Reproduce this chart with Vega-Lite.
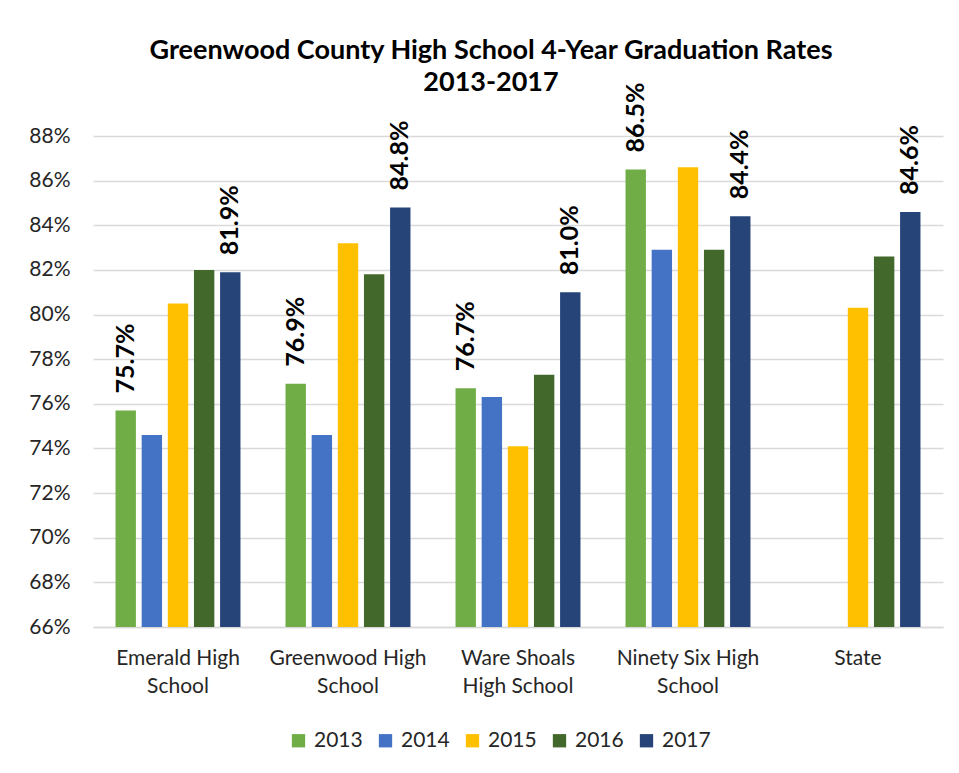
{
  "$schema": "https://vega.github.io/schema/vega-lite/v6.json",
  "width": 850,
  "height": 491,
  "autosize": {"type": "none"},
  "padding": {"left": 93, "top": 136, "right": 16, "bottom": 146},
  "background": "white",
  "title": {
    "text": ["Greenwood County High School 4-Year Graduation Rates", "2013-2017"],
    "font": "Lato",
    "fontSize": 27,
    "fontWeight": "bold",
    "color": "#000000",
    "anchor": "middle",
    "frame": "group",
    "dx": -27,
    "lineHeight": 32,
    "offset": -14
  },
  "data": {
    "values": [
      {"school": "Emerald High School", "year": "2013", "value": 0.757},
      {"school": "Emerald High School", "year": "2014", "value": 0.746},
      {"school": "Emerald High School", "year": "2015", "value": 0.805},
      {"school": "Emerald High School", "year": "2016", "value": 0.820},
      {"school": "Emerald High School", "year": "2017", "value": 0.819},
      {"school": "Greenwood High School", "year": "2013", "value": 0.769},
      {"school": "Greenwood High School", "year": "2014", "value": 0.746},
      {"school": "Greenwood High School", "year": "2015", "value": 0.832},
      {"school": "Greenwood High School", "year": "2016", "value": 0.818},
      {"school": "Greenwood High School", "year": "2017", "value": 0.848},
      {"school": "Ware Shoals High School", "year": "2013", "value": 0.767},
      {"school": "Ware Shoals High School", "year": "2014", "value": 0.763},
      {"school": "Ware Shoals High School", "year": "2015", "value": 0.741},
      {"school": "Ware Shoals High School", "year": "2016", "value": 0.773},
      {"school": "Ware Shoals High School", "year": "2017", "value": 0.810},
      {"school": "Ninety Six High School", "year": "2013", "value": 0.865},
      {"school": "Ninety Six High School", "year": "2014", "value": 0.829},
      {"school": "Ninety Six High School", "year": "2015", "value": 0.866},
      {"school": "Ninety Six High School", "year": "2016", "value": 0.829},
      {"school": "Ninety Six High School", "year": "2017", "value": 0.844},
      {"school": "State", "year": "2015", "value": 0.803},
      {"school": "State", "year": "2016", "value": 0.826},
      {"school": "State", "year": "2017", "value": 0.846}
    ]
  },
  "encoding": {
    "x": {
      "field": "school",
      "type": "nominal",
      "sort": ["Emerald High School", "Greenwood High School", "Ware Shoals High School", "Ninety Six High School", "State"],
      "scale": {"paddingInner": 0.265, "paddingOuter": 0.1325},
      "axis": {
        "title": null,
        "labelAngle": 0,
        "labelFont": "Lato",
        "labelFontSize": 21,
        "labelColor": "#262626",
        "labelPadding": 20,
        "labelLineHeight": 28,
        "labelBaseline": "top",
        "ticks": false,
        "domain": true,
        "domainColor": "#D9D9D9",
        "domainWidth": 1.3,
        "labelExpr": "datum.value == 'Emerald High School' ? ['Emerald High', 'School'] : datum.value == 'Greenwood High School' ? ['Greenwood High', 'School'] : datum.value == 'Ware Shoals High School' ? ['Ware Shoals', 'High School'] : datum.value == 'Ninety Six High School' ? ['Ninety Six High', 'School'] : datum.value"
      }
    },
    "y": {
      "field": "value",
      "type": "quantitative",
      "scale": {"domain": [0.66, 0.88], "zero": false, "nice": false},
      "axis": {
        "title": null,
        "format": ".0%",
        "values": [0.66, 0.68, 0.70, 0.72, 0.74, 0.76, 0.78, 0.80, 0.82, 0.84, 0.86, 0.88],
        "labelFont": "Lato",
        "labelFontSize": 21,
        "labelColor": "#262626",
        "labelPadding": 23,
        "ticks": false,
        "domain": false,
        "grid": true,
        "gridColor": "#D9D9D9",
        "gridWidth": 1.3
      }
    },
    "xOffset": {
      "field": "year",
      "type": "nominal",
      "scale": {"domain": ["2013", "2014", "2015", "2016", "2017"], "paddingInner": 0.22, "paddingOuter": 0}
    }
  },
  "layer": [
    {
      "mark": {"type": "bar", "clip": true},
      "encoding": {
        "color": {
          "field": "year",
          "type": "nominal",
          "scale": {
            "domain": ["2013", "2014", "2015", "2016", "2017"],
            "range": ["#70AD47", "#4472C4", "#FFC000", "#43682B", "#264478"]
          },
          "legend": {
            "title": null,
            "orient": "none",
            "direction": "horizontal",
            "legendX": 195,
            "legendY": 594,
            "symbolType": "square",
            "symbolSize": 177,
            "symbolStrokeWidth": 0,
            "labelFont": "Lato",
            "labelFontSize": 21,
            "labelColor": "#262626",
            "labelOffset": 5,
            "columnPadding": 12
          }
        }
      }
    },
    {
      "transform": [{"filter": "datum.year == '2013' || datum.year == '2017'"}],
      "mark": {
        "type": "text",
        "angle": 270,
        "align": "left",
        "baseline": "middle",
        "dx": 17,
        "font": "Lato",
        "fontSize": 25,
        "fontWeight": "bold",
        "color": "#000000"
      },
      "encoding": {
        "text": {"field": "value", "type": "quantitative", "format": ".1%"}
      }
    }
  ],
  "config": {
    "view": {"stroke": null}
  }
}
